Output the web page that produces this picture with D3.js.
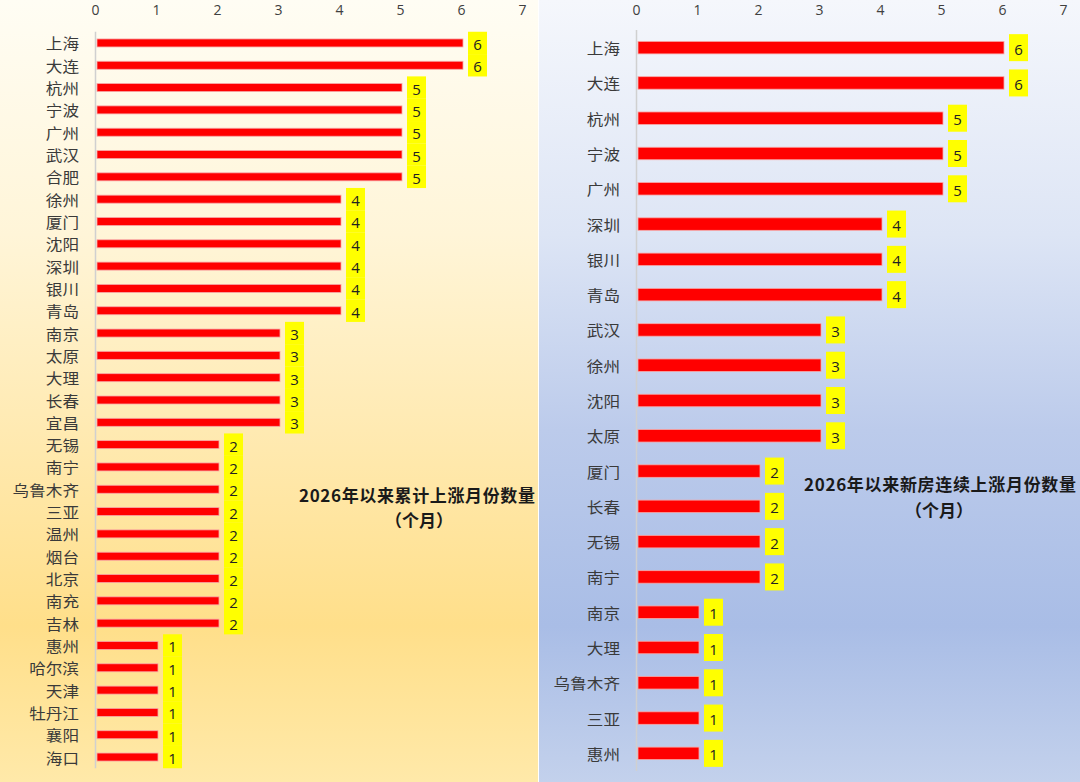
<!DOCTYPE html>
<html><head><meta charset="utf-8">
<script src="https://cdn.jsdelivr.net/npm/d3@7/dist/d3.min.js"></script>
<style>
html,body{margin:0;padding:0;background:#fff;}
svg{display:block;}
text{font-family:"Noto Sans CJK SC","Noto Sans",sans-serif;}
</style></head>
<body>
<svg id="chart" width="1080" height="782"></svg>
<script>
// ---- data ----
const leftCities = ["上海","大连","杭州","宁波","广州","武汉","合肥","徐州","厦门","沈阳","深圳","银川","青岛","南京","太原","大理","长春","宜昌","无锡","南宁","乌鲁木齐","三亚","温州","烟台","北京","南充","吉林","惠州","哈尔滨","天津","牡丹江","襄阳","海口"];
const leftValues = [6,6,5,5,5,5,5,4,4,4,4,4,4,3,3,3,3,3,2,2,2,2,2,2,2,2,2,1,1,1,1,1,1];
const rightCities = ["上海","大连","杭州","宁波","广州","深圳","银川","青岛","武汉","徐州","沈阳","太原","厦门","长春","无锡","南宁","南京","大理","乌鲁木齐","三亚","惠州"];
const rightValues = [6,6,5,5,5,4,4,4,3,3,3,3,2,2,2,2,1,1,1,1,1];
const tickValues = [0,1,2,3,4,5,6,7];
const leftTitle = ["2026年以来累计上涨月份数量","（个月）"];
const rightTitle = ["2026年以来新房连续上涨月份数量","（个月）"];

const svg = d3.select("#chart");
const defs = svg.append("defs");

function grad(id, stops){
  const g = defs.append("linearGradient").attr("id", id).attr("x1",0).attr("y1",0).attr("x2",0).attr("y2",1);
  stops.forEach(s => g.append("stop").attr("offset", s[0]).attr("stop-color", s[1]));
}
grad("gLeft", [[0,"#fffdf4"],[0.3,"#fff5d8"],[0.55,"#ffeab2"],[0.8,"#ffdf8a"],[1,"#ffe9a9"]]);
grad("gRight", [[0,"#f5f7fc"],[0.3,"#dde5f5"],[0.55,"#bccbeb"],[0.8,"#a9bde6"],[1,"#c3d1ec"]]);

svg.append("rect").attr("x",0).attr("y",0).attr("width",538).attr("height",782).attr("fill","url(#gLeft)");
svg.append("rect").attr("x",539).attr("y",0).attr("width",541).attr("height",782).attr("fill","url(#gRight)");

function panel(cfg){
  const data = cfg.cities.map((c,i)=>({city:c, value:cfg.values[i]}));
  const x = d3.scaleLinear().domain([0,7]).range([cfg.x0, cfg.x0 + 7*61]);
  const y = d3.scaleBand().domain(cfg.cities).range(cfg.yRange).paddingInner(0).paddingOuter(0);
  const g = svg.append("g");

  // top axis tick labels
  const ax = d3.axisTop(x).tickValues(tickValues).tickSize(0).tickPadding(0).tickFormat(d3.format("d"));
  const axG = g.append("g").attr("transform", `translate(-2,15)`).call(ax);
  axG.select(".domain").remove();
  axG.selectAll("text").attr("fill","#404040").style("font-size","14px").style("font-family","'Open Sans','Noto Sans',sans-serif");

  // category axis line
  g.append("line").attr("x1", x(0)-1.5).attr("x2", x(0)-1.5)
    .attr("y1", cfg.yRange[0]).attr("y2", cfg.yRange[1]).attr("stroke","#d0d0d0").attr("stroke-width",1.5);

  // category labels
  g.selectAll("text.cat").data(data).join("text").attr("class","cat")
    .attr("x", cfg.labelX).attr("y", d => y(d.city) + y.bandwidth()/2)
    .attr("text-anchor","end").attr("dominant-baseline","central")
    .attr("textLength", d => d.city.length*16.6).attr("lengthAdjust","spacingAndGlyphs")
    .attr("fill","#3a3a3a").style("font-size","15px").text(d=>d.city);

  // bars
  g.selectAll("rect.bar").data(data).join("rect").attr("class","bar")
    .attr("x", x(0)).attr("y", d => y(d.city) + y.bandwidth()/2 - cfg.barH/2)
    .attr("width", d => x(d.value) - x(0)).attr("height", cfg.barH)
    .attr("fill","#ff0000").attr("stroke","#f7a8a8").attr("stroke-width",0.8);

  // label boxes
  g.selectAll("rect.box").data(data).join("rect").attr("class","box")
    .attr("x", d => x(d.value) + 5).attr("y", d => y(d.city) + y.bandwidth()/2 - cfg.boxH/2)
    .attr("width", 19).attr("height", cfg.boxH).attr("fill","#ffff00");
  g.selectAll("text.val").data(data).join("text").attr("class","val")
    .attr("x", d => x(d.value) + 14.5).attr("y", d => y(d.city) + y.bandwidth()/2 + 1)
    .attr("text-anchor","middle").attr("dominant-baseline","central")
    .attr("fill","#222").style("font-size","15px").style("font-family","'Open Sans','Noto Sans',sans-serif")
    .text(d => d.value);

  // annotation
  const t = cfg.title;
  g.append("text").attr("x", cfg.titleX).attr("y", cfg.titleY[0]).attr("text-anchor","middle")
    .attr("dominant-baseline","central").attr("font-weight","bold").attr("fill","#1a1a1a")
    .style("font-size","17px").attr("textLength", cfg.titleW).attr("lengthAdjust","spacing").text(t[0]);
  g.append("text").attr("x", cfg.titleX2).attr("y", cfg.titleY[1]).attr("text-anchor","middle")
    .attr("dominant-baseline","central").attr("font-weight","bold").attr("fill","#1a1a1a")
    .style("font-size","17px").text(t[1]);
}

panel({cities:leftCities, values:leftValues, x0:97, yRange:[31.8,768.2], labelX:79, barH:8, boxH:22.4,
  title:leftTitle, titleX:417, titleX2:419, titleY:[494,519], titleW:236});
panel({cities:rightCities, values:rightValues, x0:638, yRange:[30,771], labelX:620, barH:12.5, boxH:27,
  title:rightTitle, titleX:940, titleX2:939, titleY:[483,509], titleW:272});
</script>
</body></html>
